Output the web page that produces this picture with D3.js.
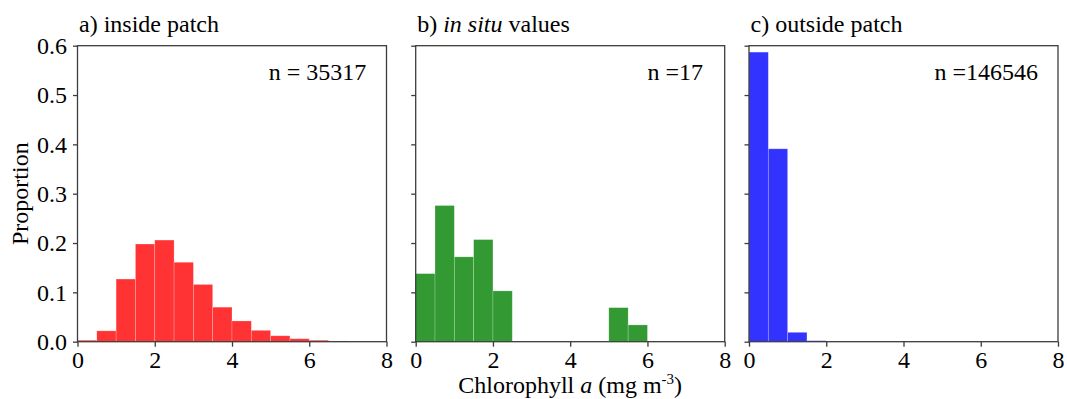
<!DOCTYPE html>
<html>
<head>
<meta charset="utf-8">
<script src="https://cdn.jsdelivr.net/npm/d3@7"></script>
<style>
  html, body { margin: 0; padding: 0; background: #fff; }
  svg text { font-family: "Liberation Serif", "Times New Roman", serif; fill: #000; }
</style>
</head>
<body>
<svg id="chart" width="1067" height="399"></svg>
<script>
(function() {
  'use strict';

  // bin edges (mg m-3), shared by all three histograms
  const binEdges = [0, 0.5, 1, 1.5, 2, 2.5, 3, 3.5, 4, 4.5, 5, 5.5, 6, 6.5, 7, 7.5, 8];

  // proportions per bin
  const insidePatch = [0.003, 0.022, 0.127, 0.198, 0.206, 0.161, 0.116, 0.070, 0.042, 0.023, 0.012, 0.006, 0.003, 0.0015, 0.0005, 0];
  const inSitu = [0.138, 0.276, 0.172, 0.207, 0.103, 0, 0, 0, 0, 0, 0.069, 0.034, 0, 0, 0, 0];
  const outsidePatch = [0.587, 0.391, 0.019, 0.002, 0, 0, 0, 0, 0, 0, 0, 0, 0, 0, 0, 0];

  const panelTitles = ['a) inside patch', 'b) in situ values', 'c) outside patch'];
  const countLabels = ['n = 35317', 'n =17', 'n =146546'];
  const xTicks = [0, 2, 4, 6, 8];
  const yTicks = [0, 0.1, 0.2, 0.3, 0.4, 0.5, 0.6];

  const panels = [
    { values: insidePatch, color: 'rgb(255,51,51)', left: 77.5, nx: 4.95 },
    { values: inSitu, color: 'rgb(51,153,51)', left: 415.7, nx: 6.0 },
    { values: outsidePatch, color: 'rgb(51,51,255)', left: 749, nx: 4.8 }
  ];

  const top = 45.7, bottom = 341.7, panelW = 309;
  const fontSize = 24;
  const axisColor = '#3c3c3c';

  const svg = d3.select('#chart');

  const y = d3.scaleLinear().domain([0, 0.6]).range([bottom, top]);

  panels.forEach((p, i) => {
    const x = d3.scaleLinear().domain([0, 8]).range([p.left, p.left + panelW]);
    const g = svg.append('g').attr('class', 'panel-' + i);

    const bins = p.values.map((v, j) => ({ x0: binEdges[j], x1: binEdges[j + 1], v: v }))
      .filter(d => d.v > 0);

    g.selectAll('rect.bar')
      .data(bins)
      .enter()
      .append('rect')
      .attr('class', 'bar')
      .attr('x', d => x(d.x0))
      .attr('y', d => y(d.v))
      .attr('width', d => x(d.x1) - x(d.x0))
      .attr('height', d => y(0) - y(d.v))
      .attr('fill', p.color)
      .attr('stroke', 'rgba(255,255,255,0.3)')
      .attr('stroke-width', 0.7);

    // x axis
    const xAxis = g.append('g')
      .attr('transform', `translate(0,${bottom})`)
      .call(d3.axisBottom(x).tickValues(xTicks).tickFormat(d3.format('d')).tickSize(5).tickPadding(4));

    // y axis, labels only on first panel
    const yAxis = g.append('g')
      .attr('transform', `translate(${p.left},0)`)
      .call(d3.axisLeft(y).tickValues(yTicks).tickSize(4.5).tickPadding(6)
        .tickFormat(i === 0 ? d3.format('.1f') : () => ''));

    [xAxis, yAxis].forEach(a => {
      a.select('.domain').remove();
      a.selectAll('line').attr('stroke', axisColor).attr('stroke-width', 1.3);
      a.selectAll('text')
        .style('font-family', '"Liberation Serif", serif')
        .style('font-size', fontSize + 'px')
        .attr('fill', '#000');
    });

    // frame
    g.append('rect')
      .attr('x', p.left)
      .attr('y', top)
      .attr('width', panelW)
      .attr('height', bottom - top)
      .attr('fill', 'none')
      .attr('stroke', axisColor)
      .attr('stroke-width', 1.3);

    // title
    const title = g.append('text')
      .attr('x', p.left + 1.5)
      .attr('y', 32)
      .style('font-size', fontSize + 'px');
    if (i === 1) {
      title.append('tspan').text('b) ');
      title.append('tspan').style('font-style', 'italic').text('in situ');
      title.append('tspan').text(' values');
    } else {
      title.text(panelTitles[i]);
    }

    // sample size
    g.append('text')
      .attr('x', x(p.nx))
      .attr('y', 80)
      .style('font-size', fontSize + 'px')
      .text(countLabels[i]);
  });

  // y label
  svg.append('text')
    .attr('transform', `translate(28,${(top + bottom) / 2}) rotate(-90)`)
    .attr('text-anchor', 'middle')
    .style('font-size', fontSize + 'px')
    .text('Proportion');

  // x label under middle panel
  const xl = svg.append('text')
    .attr('x', panels[1].left + panelW / 2)
    .attr('y', 393)
    .attr('text-anchor', 'middle')
    .style('font-size', fontSize + 'px');
  xl.append('tspan').text('Chlorophyll ');
  xl.append('tspan').style('font-style', 'italic').text('a');
  xl.append('tspan').text(' (mg m');
  xl.append('tspan').attr('dy', -9).style('font-size', '15px').text('-3');
  xl.append('tspan').attr('dy', 9).text(')');
})();
</script>
</body>
</html>
